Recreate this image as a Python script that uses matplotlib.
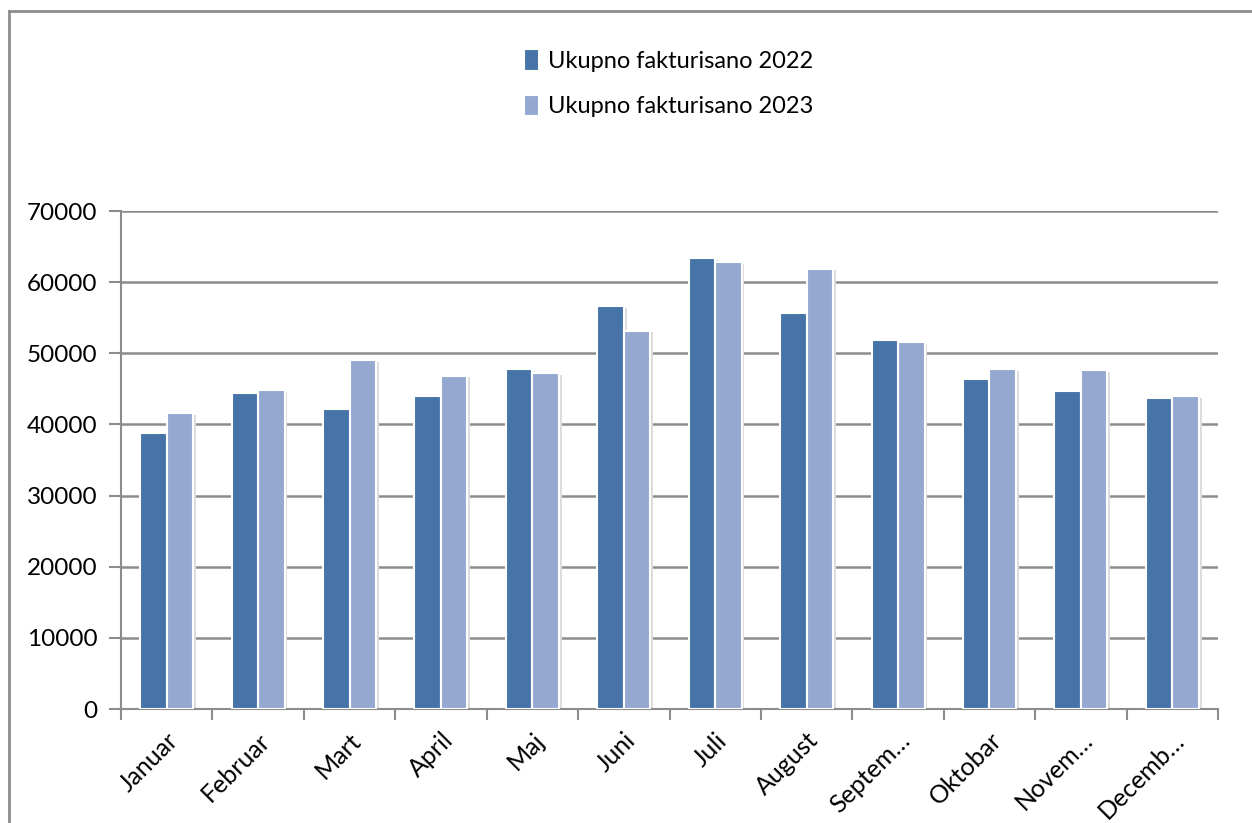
import numpy as np
import matplotlib
matplotlib.use("Agg")
import matplotlib.pyplot as plt
from matplotlib.lines import Line2D

plt.rcParams['font.family'] = ['Lato', 'DejaVu Sans']

months = ['Januar', 'Februar', 'Mart', 'April', 'Maj', 'Juni', 'Juli',
          'August', 'Septem…', 'Oktobar', 'Novem…', 'Decemb…']
total_2022 = [38750, 44450, 42100, 43950, 47800, 56600, 63400,
              55650, 51800, 46400, 44650, 43700]
total_2023 = [41550, 44800, 49000, 46850, 47200, 53200, 62850,
              61900, 51550, 47750, 47650, 44000]

c2022 = '#4673a8'
c2023 = '#95a9d0'
grid_col = '#8c8c8c'

fig = plt.figure(figsize=(12.52, 8.23), dpi=100)
ax = fig.add_axes([121 / 1252, 1 - 709 / 823, 1097 / 1252, 498 / 823])

x = np.arange(len(months))
w = 0.29
shadow = dict(color='#dcdcdc', linewidth=0, zorder=1)
ax.bar(x - w / 2 + 0.03, total_2022, w, bottom=-250, **shadow)
ax.bar(x + w / 2 + 0.03, total_2023, w, bottom=-250, **shadow)
ax.bar(x - w / 2, total_2022, w, color=c2022, edgecolor='white',
       linewidth=1.5, zorder=3, label='Ukupno fakturisano 2022')
ax.bar(x + w / 2, total_2023, w, color=c2023, edgecolor='white',
       linewidth=1.5, zorder=3, label='Ukupno fakturisano 2023')

ax.set_xlim(-0.5, len(months) - 0.5)
ax.set_ylim(0, 70000)
ax.set_yticks(np.arange(0, 70001, 10000))
ax.yaxis.grid(True, color=grid_col, linewidth=1.8, zorder=0)
ax.set_axisbelow(True)

ax.set_xticks(x)
ax.set_xticklabels(months, rotation=45, ha='right', rotation_mode='anchor')
ax.set_xticks(np.arange(-0.5, len(months)), minor=True)
ax.tick_params(axis='x', which='major', length=0, pad=14, labelsize=18)
ax.tick_params(axis='x', which='minor', length=8, width=1.5, color=grid_col)
ax.tick_params(axis='y', length=9, width=1.5, color=grid_col, pad=8,
               labelsize=17.5)

for s in ['top', 'right']:
    ax.spines[s].set_visible(False)
for s in ['left', 'bottom']:
    ax.spines[s].set_color(grid_col)
    ax.spines[s].set_linewidth(1.5)

ax.legend(loc='upper left', bbox_to_anchor=(515 / 1252, 1 - 40 / 823),
          bbox_transform=fig.transFigure, frameon=False, fontsize=17,
          handlelength=0.6, handleheight=1.0, handletextpad=0.4,
          labelspacing=0.95, borderaxespad=0)

# outer chart frame (open on right and bottom, as in the screenshot)
fig.add_artist(Line2D([9 / 1252, 1], [1 - 11 / 823, 1 - 11 / 823],
                      color=grid_col, linewidth=2, transform=fig.transFigure))
fig.add_artist(Line2D([9 / 1252, 9 / 1252], [0, 1 - 11 / 823],
                      color=grid_col, linewidth=2, transform=fig.transFigure))

fig.savefig('out.png', dpi=100)
